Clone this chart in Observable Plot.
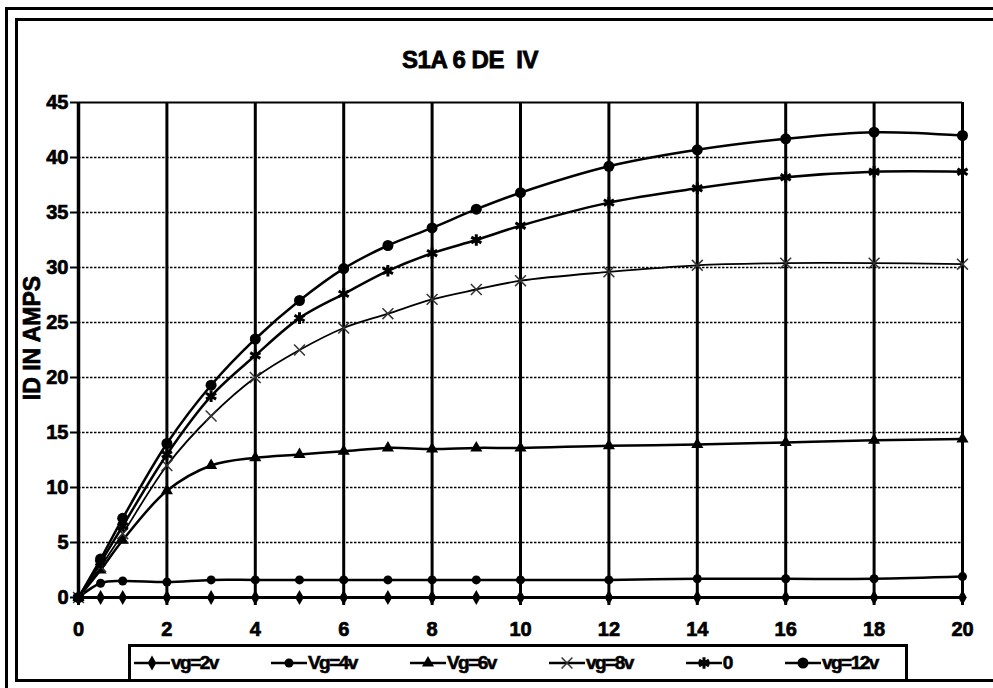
<!DOCTYPE html>
<html><head><meta charset="utf-8">
<script src="https://cdn.jsdelivr.net/npm/d3@7"></script>
<script src="https://cdn.jsdelivr.net/npm/@observablehq/plot@0.6"></script>
<style>
html,body{margin:0;padding:0;background:#fff;}
#wrap{position:relative;width:993px;height:688px;overflow:hidden;font-family:"Liberation Sans",Arial,sans-serif;font-weight:bold;color:#000;}
.b{position:absolute;border:3px solid #000;box-sizing:content-box;}
#outer{left:5px;top:7px;width:1100px;height:800px;}
#inner{left:15px;top:18px;width:1100px;height:658px;}
#chart{position:absolute;left:0;top:0;}
#chart svg text{stroke:#000;stroke-width:0.7px;}
#title{position:absolute;left:270px;width:400px;top:46px;text-align:center;font-size:24px;letter-spacing:-0.5px;white-space:pre;-webkit-text-stroke:0.8px #000;}
#legend{position:absolute;left:128px;top:644px;width:771px;height:32px;border:3px solid #000;background:#fff;display:flex;align-items:center;padding-left:3px;box-sizing:content-box;}
.item{display:flex;align-items:center;margin-right:53px;font-size:19px;letter-spacing:-1.5px;-webkit-text-stroke:0.6px #000;}
.item svg{display:block;margin-right:1px;}
</style></head>
<body>
<div id="wrap">
  <div class="b" id="outer"></div>
  <div class="b" id="inner"></div>
  <div id="chart"></div>
  <div id="title">S1A 6 DE  IV</div>
  <div id="legend"></div>
</div>
<script>
// ---- data ----
const xs = [0, 0.5, 1, 2, 3, 4, 5, 6, 7, 8, 9, 10, 12, 14, 16, 18, 20];
const seriesNames = ["vg=2v", "Vg=4v", "Vg=6v", "vg=8v", "0", "vg=12v"];
const vg2  = [0, 0, 0, 0, 0, 0, 0, 0, 0, 0, 0, 0, 0, 0, 0, 0, 0];
const vg4  = [0, 1.3, 1.5, 1.4, 1.6, 1.6, 1.6, 1.6, 1.6, 1.6, 1.6, 1.6, 1.6, 1.7, 1.7, 1.7, 1.9];
const vg6  = [0, 2.5, 5.2, 9.7, 12.0, 12.7, 13.0, 13.3, 13.6, 13.5, 13.6, 13.6, 13.8, 13.9, 14.1, 14.3, 14.4];
const vg8  = [0, 2.8, 5.8, 12.0, 16.5, 20.0, 22.5, 24.5, 25.8, 27.1, 28.0, 28.8, 29.6, 30.2, 30.4, 30.4, 30.3];
const v0   = [0, 3.2, 6.5, 13.0, 18.3, 22.0, 25.4, 27.6, 29.7, 31.3, 32.5, 33.8, 35.9, 37.2, 38.2, 38.7, 38.7];
const vg12 = [0, 3.5, 7.2, 14.0, 19.3, 23.5, 27.0, 29.9, 32.0, 33.6, 35.3, 36.8, 39.2, 40.7, 41.7, 42.3, 42.0];
const xTicks = [0, 2, 4, 6, 8, 10, 12, 14, 16, 18, 20];
const yTicks = [0, 5, 10, 15, 20, 25, 30, 35, 40, 45];
const yLabel = "ID IN AMPS";

// ---- build ----
const seriesValues = [vg2, vg4, vg6, vg8, v0, vg12];
const data = seriesNames.flatMap((name, i) => xs.map((x, j) => ({name, x, y: seriesValues[i][j]})));

const style = {
  "vg=2v":  {symbol: "diamond",  r: 4.5, fill: "black", stroke: "none",  sw: 0,   lw: 2.5},
  "Vg=4v":  {symbol: "circle",   r: 4.5, fill: "black", stroke: "none",  sw: 0,   lw: 2.5},
  "Vg=6v":  {symbol: "triangle", r: 4.5, fill: "black", stroke: "none",  sw: 0,   lw: 2.5},
  "vg=8v":  {symbol: "times",    r: 5,   fill: "none",  stroke: "#333",  sw: 1.5, lw: 1.8},
  "0":      {symbol: "asterisk", r: 5.5, fill: "none",  stroke: "black", sw: 3,   lw: 2.5},
  "vg=12v": {symbol: "circle",   r: 5.5, fill: "black", stroke: "none",  sw: 0,   lw: 2.5}
};

const seriesMarks = seriesNames.flatMap(name => {
  const d = data.filter(r => r.name === name);
  const s = style[name];
  return [
    Plot.line(d, {x: "x", y: "y", curve: "catmull-rom", stroke: "black", strokeWidth: s.lw}),
    Plot.dot(d, {x: "x", y: "y", symbol: s.symbol, r: s.r, fill: s.fill, stroke: s.stroke, strokeWidth: s.sw})
  ];
});

const font = "'Liberation Sans', Arial, sans-serif";
const chart = Plot.plot({
  width: 993, height: 688,
  marginLeft: 78, marginRight: 31, marginTop: 102, marginBottom: 91,
  x: {domain: [0, 20]},
  y: {domain: [0, 45]},
  style: {background: "transparent", fontFamily: font, fontWeight: "bold", color: "black", overflow: "visible"},
  marks: [
    Plot.ruleY(yTicks.filter(t => t > 0 && t < 45), {stroke: "black", strokeWidth: 1.5, strokeDasharray: "2.5,1.5"}),
    Plot.ruleX(xTicks.filter(t => t > 0), {stroke: "black", strokeWidth: 3}),
    Plot.ruleY([45], {stroke: "black", strokeWidth: 2}),
    Plot.axisY({ticks: yTicks, tickSize: 8, tickPadding: 2, strokeWidth: 2, label: null, tickFormat: d => String(d), fontSize: 20, fontFamily: font, fontWeight: "bold"}),
    Plot.axisX({ticks: xTicks, tickSize: 8, tickPadding: 16, strokeWidth: 3, label: null, tickFormat: d => String(d), fontSize: 20, fontFamily: font, fontWeight: "bold"}),
    Plot.ruleX([0], {stroke: "black", strokeWidth: 3.5}),
    Plot.ruleY([0], {stroke: "black", strokeWidth: 3}),
    ...seriesMarks,
    Plot.text([yLabel], {text: d => d, frameAnchor: "left", textAnchor: "middle", dx: -46, dy: -12, rotate: -90, fontSize: 23, fontFamily: font, fontWeight: "bold"})
  ]
});
document.getElementById("chart").appendChild(chart);

// ---- legend ----
const symMap = {diamond: d3.symbolDiamond, circle: d3.symbolCircle, triangle: d3.symbolTriangle, times: d3.symbolTimes, asterisk: d3.symbolAsterisk};
const legend = d3.select("#legend");
seriesNames.forEach(name => {
  const s = style[name];
  const item = legend.append("div").attr("class", "item");
  const svg = item.append("svg").attr("width", 36).attr("height", 20);
  svg.append("line").attr("x1", 0).attr("x2", 36).attr("y1", 10).attr("y2", 10).attr("stroke", "black").attr("stroke-width", 2.5);
  svg.append("path").attr("transform", "translate(18,10)")
    .attr("d", d3.symbol(symMap[s.symbol], Math.PI * s.r * s.r)())
    .attr("fill", s.fill).attr("stroke", s.stroke).attr("stroke-width", s.sw);
  item.append("span").text(name);
});
</script>
</body></html>
